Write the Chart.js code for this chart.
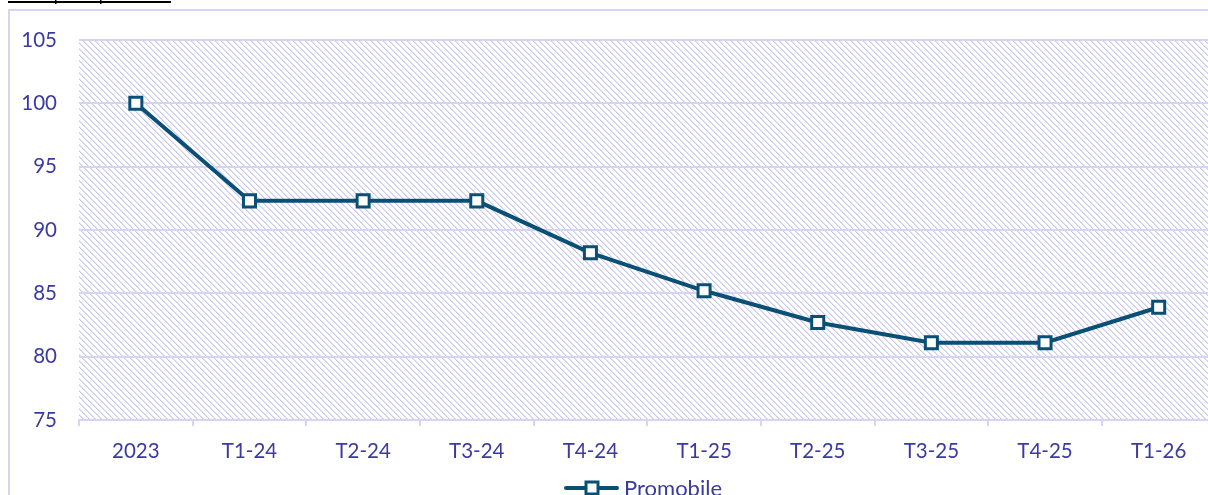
<!DOCTYPE html>
<html>
<head>
<meta charset="utf-8">
<script src="https://cdn.jsdelivr.net/npm/chart.js@4/dist/chart.umd.min.js"></script>
<style>
html,body{margin:0;padding:0;background:#fff;overflow:hidden;}
#wrap{width:1208px;height:495px;overflow:hidden;position:relative;}
canvas{display:block;}
</style>
</head>
<body>
<div id="wrap"><canvas id="c" width="1227" height="495"></canvas></div>
<script>
const categories = ['2023','T1-24','T2-24','T3-24','T4-24','T1-25','T2-25','T3-25','T4-25','T1-26'];
const promobile = [100, 92.3, 92.3, 92.3, 88.2, 85.2, 82.7, 81.1, 81.1, 83.9];
const seriesName = 'Promobile';
const yMin = 75, yMax = 105, yStep = 5;

const LINE = '#0a4f75';
const LAV = '#d6d4f1';
const TXT = '#3b3a9e';
const FONT = 'Lato, "Open Sans", sans-serif';

// hatch pattern
const pc = document.createElement('canvas');
pc.width = 6; pc.height = 6;
const px = pc.getContext('2d');
px.fillStyle = '#ffffff'; px.fillRect(0,0,6,6);
for (let i = 0; i < 6; i++) {
  px.fillStyle = '#cbc9f0'; px.fillRect(i, i, 1, 1);
  px.fillStyle = '#e3e2f7'; px.fillRect((i+1)%6, i, 1, 1);
}

const bgPlugin = {
  id: 'bg',
  beforeDraw(chart) {
    const ctx = chart.ctx, a = chart.chartArea;
    ctx.save();
    ctx.fillStyle = '#fff';
    ctx.fillRect(0,0,chart.width,chart.height);
    ctx.fillStyle = ctx.createPattern(pc, 'repeat');
    ctx.fillRect(a.left, a.top, a.right - a.left, a.bottom - a.top);
    ctx.strokeStyle = LAV; ctx.lineWidth = 2;
    ctx.beginPath();
    ctx.moveTo(9, chart.height); ctx.lineTo(9, 10); ctx.lineTo(chart.width, 10);
    ctx.stroke();
    ctx.strokeStyle = '#000'; ctx.lineWidth = 2;
    ctx.beginPath(); ctx.moveTo(8, 2); ctx.lineTo(171, 2); ctx.stroke();
    ctx.fillStyle = '#000';
    ctx.fillRect(55, 0, 1.5, 4);
    ctx.fillRect(100, 0, 1.5, 4);
    ctx.restore();
  }
};

const legendPlugin = {
  id: 'customLegend',
  afterDraw(chart) {
    const ctx = chart.ctx;
    const y = 488;
    ctx.save();
    ctx.strokeStyle = LINE; ctx.lineWidth = 4; ctx.lineCap = 'round';
    ctx.beginPath(); ctx.moveTo(566, y); ctx.lineTo(617, y); ctx.stroke();
    ctx.fillStyle = '#fff'; ctx.lineWidth = 3;
    ctx.fillRect(586, y - 6, 12, 12);
    ctx.strokeRect(586, y - 6, 12, 12);
    ctx.fillStyle = TXT;
    ctx.font = '22px ' + FONT;
    ctx.textBaseline = 'middle';
    ctx.fillText(seriesName, 624, y + 1);
    ctx.restore();
  }
};

new Chart(document.getElementById('c'), {
  type: 'line',
  data: {
    labels: categories,
    datasets: [{
      label: seriesName,
      data: promobile,
      borderColor: LINE,
      borderWidth: 4,
      pointStyle: 'rect',
      pointRadius: 8.5,
      pointBorderWidth: 3,
      pointBackgroundColor: '#fff',
      pointBorderColor: LINE,
      tension: 0
    }]
  },
  options: {
    responsive: false,
    animation: false,
    layout: { padding: { top: 40, right: 0, left: 0, bottom: 0 } },
    plugins: { legend: { display: false }, tooltip: { enabled: false } },
    scales: {
      x: {
        type: 'category',
        offset: true,
        grid: { offset: true, drawOnChartArea: false, tickLength: 6, color: LAV, lineWidth: 2 },
        border: { display: true, color: LAV, width: 2 },
        ticks: { color: TXT, font: { family: FONT, size: 20.5 }, padding: 13, maxRotation: 0, autoSkip: false },
        afterFit(s) { s.height = 75; }
      },
      y: {
        min: yMin, max: yMax,
        ticks: { stepSize: yStep, color: TXT, font: { family: FONT, size: 20.5 }, padding: 22 },
        grid: { color: LAV, lineWidth: 2, drawTicks: false },
        border: { display: false },
        afterFit(s) { s.width = 79; }
      }
    }
  },
  plugins: [bgPlugin, legendPlugin]
});
</script>
</body>
</html>
